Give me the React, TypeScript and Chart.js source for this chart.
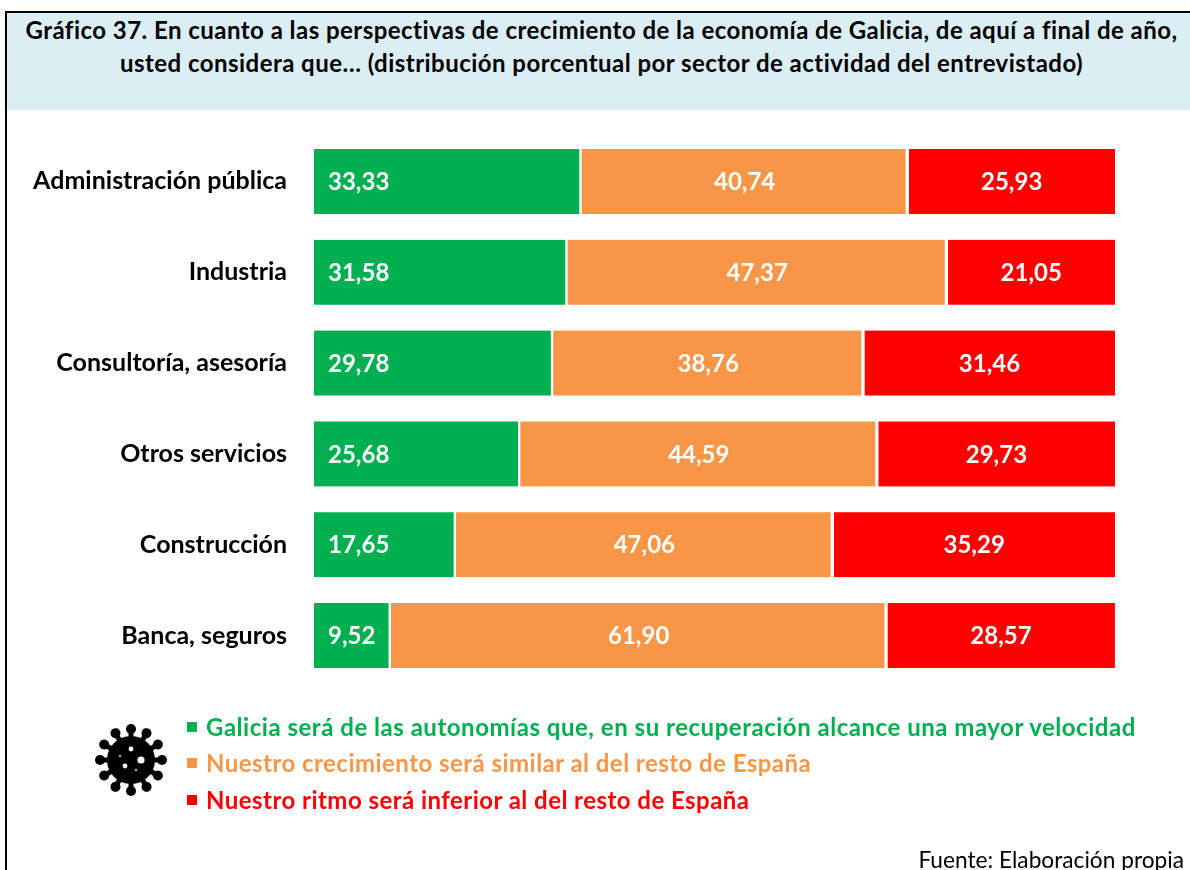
import React, { useEffect, useRef } from "react";
import { Chart, registerables } from "chart.js";

Chart.register(...registerables);

const titleLines = [
  "Gráfico 37. En cuanto a las perspectivas de crecimiento de la economía de Galicia, de aquí a final de año,",
  "usted considera que… (distribución porcentual por sector de actividad del entrevistado)",
];
const categories = [
  "Administración pública",
  "Industria",
  "Consultoría, asesoría",
  "Otros servicios",
  "Construcción",
  "Banca, seguros",
];
const mayorVelocidad = [33.33, 31.58, 29.78, 25.68, 17.65, 9.52];
const similar = [40.74, 47.37, 38.76, 44.59, 47.06, 61.9];
const inferior = [25.93, 21.05, 31.46, 29.73, 35.29, 28.57];
const seriesNames = [
  "Galicia será de las autonomías que, en su recuperación alcance una mayor velocidad",
  "Nuestro crecimiento será similar al del resto de España",
  "Nuestro ritmo será inferior al del resto de España",
];
const GREEN = "#00B050";
const ORANGE = "#F79646";
const RED = "#FF0000";
const seriesColors = [GREEN, ORANGE, RED];
const source = "Fuente: Elaboración propia";
const FONT = "Lato, Carlito, sans-serif";

const barLabels = {
  id: "barLabels",
  afterDatasetsDraw(chart: any) {
    const { ctx } = chart;
    ctx.save();
    ctx.font = `bold 24px ${FONT}`;
    ctx.fillStyle = "#FFFFFF";
    ctx.textBaseline = "middle";
    chart.data.datasets.forEach((ds: any, i: number) => {
      chart.getDatasetMeta(i).data.forEach((bar: any, j: number) => {
        const text = ds.data[j].toFixed(2).replace(".", ",");
        if (i === 0) {
          ctx.textAlign = "left";
          ctx.fillText(text, bar.base + 14, bar.y + 1);
        } else {
          ctx.textAlign = "center";
          ctx.fillText(text, (bar.base + bar.x) / 2 + 0.5, bar.y + 1);
        }
      });
    });
    ctx.restore();
  },
};

function Virus() {
  const spikes = Array.from({ length: 12 }, (_, i) => i * 30);
  return (
    <svg
      width={76}
      height={76}
      viewBox="-38 -38 76 76"
      style={{ position: "absolute", left: 93, top: 722 }}
    >
      <circle r={24} fill="#000" />
      {spikes.map((a) => (
        <g key={a} transform={`rotate(${a})`}>
          <rect x={-2.5} y={-32} width={5} height={12} fill="#000" />
          <circle cy={-31} r={5} fill="#000" />
        </g>
      ))}
      <circle cx={10} cy={0} r={3.6} fill="#fff" />
      <circle cx={0} cy={-11} r={2.4} fill="#fff" />
      <circle cx={-6} cy={6} r={2.4} fill="#fff" />
      <circle cx={-11} cy={-4} r={1} fill="#fff" />
      <circle cx={5} cy={10} r={1} fill="#fff" />
    </svg>
  );
}

export default function App() {
  const ref = useRef<HTMLCanvasElement>(null);
  useEffect(() => {
    const chart = new Chart(ref.current as HTMLCanvasElement, {
      type: "bar",
      data: {
        labels: categories,
        datasets: [
          { label: seriesNames[0], data: mayorVelocidad, backgroundColor: GREEN, borderColor: "#fff", borderWidth: { right: 2, left: 0, top: 0, bottom: 0 } as any, borderSkipped: false },
          { label: seriesNames[1], data: similar, backgroundColor: ORANGE, borderColor: "#fff", borderWidth: { left: 1, right: 2, top: 0, bottom: 0 } as any, borderSkipped: false },
          { label: seriesNames[2], data: inferior, backgroundColor: RED, borderColor: "#fff", borderWidth: { left: 2, right: 0, top: 0, bottom: 0 } as any, borderSkipped: false },
        ],
      },
      options: {
        indexAxis: "y",
        responsive: false,
        animation: false,
        layout: { padding: { left: 0, right: 75, top: 136, bottom: 189 } },
        plugins: { legend: { display: false }, title: { display: false }, tooltip: { enabled: false } },
        datasets: { bar: { barThickness: 65 } },
        scales: {
          x: { stacked: true, min: 0, max: 100, display: false },
          y: {
            stacked: true,
            grid: { display: false, drawTicks: false },
            border: { display: false },
            afterFit: (s: any) => { s.width = 314; },
            ticks: { color: "#000", padding: 27, font: { family: FONT, weight: "bold", size: 25 } },
          },
        },
      } as any,
      plugins: [barLabels],
    });
    return () => chart.destroy();
  }, []);

  const legendTop = [727, 763, 800];
  return (
    <div style={{ position: "absolute", left: 0, top: 0, width: 1190, height: 870, overflow: "hidden", background: "#fff", fontFamily: FONT }}>
      <div style={{ position: "absolute", left: 5, top: 11, width: 1185, height: 859, borderLeft: "2px solid #000", borderTop: "2px solid #000", boxSizing: "border-box" }} />
      <div style={{ position: "absolute", left: 7, top: 13, width: 1183, height: 97, background: "#DAEEF3" }} />
      {titleLines.map((t, i) => (
        <div key={i} style={{ position: "absolute", left: 0, width: 1203, top: 13 + i * 33, height: 33, lineHeight: "33px", textAlign: "center", fontWeight: 700, fontSize: 24, letterSpacing: 0.46, color: "#000", whiteSpace: "nowrap" }}>
          {t}
        </div>
      ))}
      <canvas ref={ref} width={1190} height={870} style={{ position: "absolute", left: 0, top: 0, display: "block" }} />
      <Virus />
      {seriesNames.map((t, i) => (
        <React.Fragment key={i}>
          <div style={{ position: "absolute", left: 187, top: legendTop[i] - 5, width: 10, height: 10, background: seriesColors[i] }} />
          <div style={{ position: "absolute", left: 206, top: legendTop[i] - 16, height: 32, lineHeight: "32px", fontWeight: 700, fontSize: 24, letterSpacing: i === 0 ? 0.52 : 0.46, color: seriesColors[i], whiteSpace: "nowrap" }}>
            {t}
          </div>
        </React.Fragment>
      ))}
      <div style={{ position: "absolute", right: 6, top: 845, lineHeight: "30px", fontSize: 22.7, color: "#000", whiteSpace: "nowrap" }}>{source}</div>
    </div>
  );
}
